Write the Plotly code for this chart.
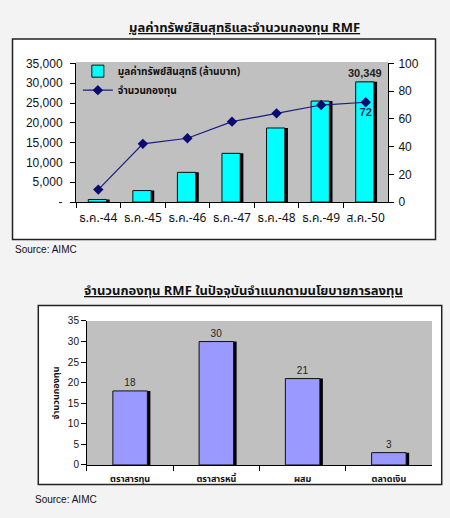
import plotly.graph_objects as go

# ---------------- data ----------------
periods = ["ธ.ค.-44", "ธ.ค.-45", "ธ.ค.-46", "ธ.ค.-47", "ธ.ค.-48", "ธ.ค.-49", "ส.ค.-50"]
nav_million_baht = [650, 2900, 7500, 12300, 18700, 25500, 30349]
fund_count = [9, 42, 46, 58, 64, 70, 72]
nav_labels = ["", "", "", "", "", "", "30,349"]
count_labels = ["", "", "", "", "", "", "72"]

left_tickvals = [0, 5000, 10000, 15000, 20000, 25000, 30000, 35000]
left_ticktext = ["-", "5,000", "10,000", "15,000", "20,000", "25,000", "30,000", "35,000"]

policies = ["ตราสารทุน", "ตราสารหนี้", "ผสม", "ตลาดเงิน"]
policy_counts = [18, 30, 21, 3]

title_top = "มูลค่าทรัพย์สินสุทธิและจำนวนกองทุน RMF"
title_bottom = "จำนวนกองทุน RMF ในปัจจุบันจำแนกตามนโยบายการลงทุน"
legend_nav = "มูลค่าทรัพย์สินสุทธิ (ล้านบาท)"
legend_count = "จำนวนกองทุน"
ytitle_bottom = "จำนวนกองทุน"
source_text = "Source: AIMC"

FONT = "Tahoma, 'Noto Sans Thai', 'DejaVu Sans', Arial, sans-serif"
ARIAL = "Arial, 'Liberation Sans', sans-serif"

fig = go.Figure()

# ---- top chart: NAV bars (shadow + main) ----
w1 = 0.41
fig.add_trace(go.Bar(x=periods, y=nav_million_baht, width=w1, offset=-w1 / 2 + 0.05,
                     marker=dict(color="#000000", line=dict(width=0)),
                     showlegend=False, hoverinfo="skip", xaxis="x", yaxis="y"))
fig.add_trace(go.Bar(x=periods, y=nav_million_baht, width=w1, offset=-w1 / 2 - 0.02,
                     name=legend_nav, text=nav_labels, textposition="outside",
                     cliponaxis=False, constraintext="none",
                     textfont=dict(family=ARIAL, size=11, color="#222222", weight="bold"),
                     marker=dict(color="#00FFFF", line=dict(color="#111111", width=1)),
                     xaxis="x", yaxis="y"))
# ---- top chart: fund count line ----
fig.add_trace(go.Scatter(x=periods, y=fund_count, name=legend_count,
                         mode="lines+markers+text", text=count_labels,
                         textposition="bottom center",
                         textfont=dict(family=ARIAL, size=11, color="#0A2F55", weight="bold"),
                         line=dict(color="#1A1A80", width=1.2),
                         marker=dict(symbol="diamond", size=8, color="#0A0A70"),
                         cliponaxis=False,
                         xaxis="x", yaxis="y2"))

# ---- bottom chart ----
w3 = 0.40
fig.add_trace(go.Bar(x=policies, y=policy_counts, width=w3, offset=-w3 / 2 + 0.035,
                     marker=dict(color="#000000", line=dict(width=0)),
                     showlegend=False, hoverinfo="skip", xaxis="x3", yaxis="y3"))
fig.add_trace(go.Bar(x=policies, y=policy_counts, width=w3, offset=-w3 / 2,
                     text=[str(v) for v in policy_counts], textposition="outside",
                     cliponaxis=False, constraintext="none",
                     textfont=dict(family=ARIAL, size=10, color="#222222"),
                     marker=dict(color="#9999FF", line=dict(color="#111111", width=1)),
                     showlegend=False, xaxis="x3", yaxis="y3"))

axis_common = dict(showline=True, linecolor="#000000", linewidth=1, ticks="outside",
                   ticklen=5, tickcolor="#000000", showgrid=False, zeroline=False)

shapes = [
    # frames
    dict(type="rect", xref="paper", yref="paper", x0=0.0278, x1=0.9678, y0=0.5386, y1=0.9363,
         fillcolor="#FFFFFF", line=dict(color="#222222", width=1.5), layer="below"),
    dict(type="rect", xref="paper", yref="paper", x0=0.0851, x1=0.9816, y0=0.0527, y1=0.4079,
         fillcolor="#FFFFFF", line=dict(color="#222222", width=1.5), layer="below"),
    # plot area backgrounds
    dict(type="rect", xref="x domain", yref="y domain", x0=0, x1=1, y0=0, y1=1.01,
         fillcolor="#C0C0C0", line=dict(width=0), layer="below"),
    dict(type="rect", xref="x3 domain", yref="y3 domain", x0=0, x1=1, y0=0, y1=1,
         fillcolor="#C0C0C0", line=dict(width=0), layer="below"),
]

annotations = [
    dict(text="<u><b>" + title_top + "</b></u>", x=0.544, y=0.9575, xref="paper", yref="paper",
         showarrow=False, xanchor="center", yanchor="middle",
         font=dict(family=FONT, size=13, color="#111111")),
    dict(text="<u><b>" + title_bottom + "</b></u>", x=0.542, y=0.4363, xref="paper", yref="paper",
         showarrow=False, xanchor="center", yanchor="middle",
         font=dict(family=FONT, size=13, color="#111111")),
    dict(text=source_text, x=13 / 450, y=0.5193, xref="paper", yref="paper",
         showarrow=False, xanchor="left", yanchor="middle",
         font=dict(family=ARIAL, size=10, color="#111111")),
    dict(text=source_text, x=33 / 450, y=0.0237, xref="paper", yref="paper",
         showarrow=False, xanchor="left", yanchor="middle",
         font=dict(family=ARIAL, size=10, color="#111111")),
]

fig.update_layout(
    width=450, height=518,
    margin=dict(l=0, r=0, t=0, b=0),
    paper_bgcolor="#F3F3F3",
    plot_bgcolor="rgba(0,0,0,0)",
    barmode="overlay",
    shapes=shapes,
    annotations=annotations,
    legend=dict(x=0.173, y=0.9015, xanchor="left", yanchor="top",
                bgcolor="rgba(0,0,0,0)", font=dict(family=FONT, size=10, color="#111111", weight="bold"),
                tracegroupgap=0, itemwidth=30),
    xaxis=dict(domain=[0.1689, 0.8622], anchor="y", tickson="boundaries", tickangle=0,
               ticklabelstandoff=5,
               tickfont=dict(family=FONT, size=12, color="#111111"), **axis_common),
    yaxis=dict(domain=[0.6130, 0.8880], anchor="x", range=[0, 35000],
               tickvals=left_tickvals, ticktext=left_ticktext, ticklabelstandoff=5,
               tickfont=dict(family=ARIAL, size=12, color="#111111"), **axis_common),
    yaxis2=dict(overlaying="y", side="right", anchor="x", range=[0, 100], dtick=20,
                ticklabelstandoff=2,
                tickfont=dict(family=ARIAL, size=12, color="#111111"), **axis_common),
    xaxis3=dict(domain=[0.1933, 0.96], anchor="y3", tickson="boundaries", tickangle=0,
                ticklabelstandoff=5,
                tickfont=dict(family=FONT, size=9, color="#111111", weight="bold"), **axis_common),
    yaxis3=dict(domain=[0.0913, 0.3770], anchor="x3", range=[0, 35], dtick=5,
                title=dict(text=ytitle_bottom, standoff=6,
                           font=dict(family=FONT, size=9, color="#111111", weight="bold")),
                tickfont=dict(family=ARIAL, size=10, color="#111111"), **axis_common),
)

fig.write_html("out.html")
